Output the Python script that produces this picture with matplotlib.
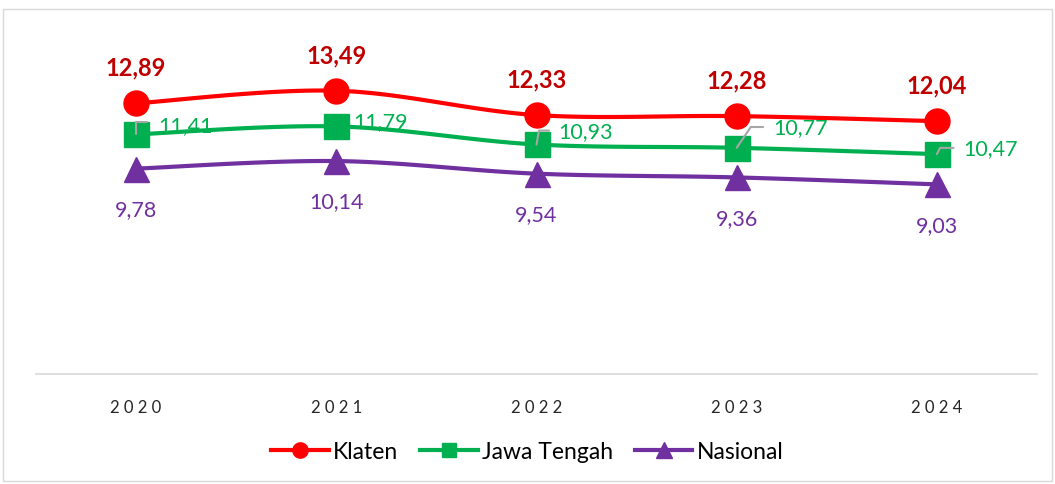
import matplotlib.pyplot as plt
import numpy as np
from matplotlib.lines import Line2D
from matplotlib.patches import Rectangle

plt.rcParams['font.family'] = ['Lato', 'DejaVu Sans']

# data
years = ['2020', '2021', '2022', '2023', '2024']
klaten = [12.89, 13.49, 12.33, 12.28, 12.04]
jateng = [11.41, 11.79, 10.93, 10.77, 10.47]
nasional = [9.78, 10.14, 9.54, 9.36, 9.03]

klaten_labels = ['12,89', '13,49', '12,33', '12,28', '12,04']
jateng_labels = ['11,41', '11,79', '10,93', '10,77', '10,47']
nasional_labels = ['9,78', '10,14', '9,54', '9,36', '9,03']

red = '#FF0000'
green = '#00B050'
purple = '#7030A0'


def smooth(x, y, n=30):
    # Excel-like smoothed line (Catmull-Rom through the points)
    x = np.asarray(x, float)
    y = np.asarray(y, float)
    pts = np.column_stack([x, y])
    ext = np.vstack([pts[0], pts, pts[-1]])
    out = []
    for i in range(len(pts) - 1):
        p0, p1, p2, p3 = ext[i], ext[i + 1], ext[i + 2], ext[i + 3]
        c1 = p1 + (p2 - p0) / 6
        c2 = p2 - (p3 - p1) / 6
        t = np.linspace(0, 1, n)[:, None]
        seg = ((1 - t) ** 3) * p1 + 3 * ((1 - t) ** 2) * t * c1 + 3 * (1 - t) * t ** 2 * c2 + t ** 3 * p2
        out.append(seg if i == 0 else seg[1:])
    out = np.vstack(out)
    return out[:, 0], out[:, 1]


fig = plt.figure(figsize=(10.55, 4.85), dpi=100)
ax = fig.add_axes([36 / 1055, 1 - 375 / 485, 1001 / 1055, 336 / 485])

x = np.arange(len(years))

for vals, col, mk in [(klaten, red, 'o'), (jateng, green, 's'), (nasional, purple, '^')]:
    sx, sy = smooth(x, vals)
    ax.plot(sx, sy, color=col, lw=3, solid_capstyle='round', zorder=2)
    ax.plot(x, vals, linestyle='none', marker=mk, markersize=18, color=col, zorder=3)

# labels
for xi, v, t in zip(x, klaten, klaten_labels):
    ax.annotate(t, (xi, v), xytext=(0, 26), textcoords='offset points',
                ha='center', va='center', fontsize=17, fontweight='bold', color='#C00000')

for xi, v, t in zip(x, nasional, nasional_labels):
    ax.annotate(t, (xi, v), xytext=(0, -29), textcoords='offset points',
                ha='center', va='center', fontsize=15.5, color=purple)

green_off = [(16, 7), (12, 4), (16, 9.5), (26, 15), (19, 4.5)]
for xi, v, t, off in zip(x, jateng, jateng_labels, green_off):
    ax.annotate(t, (xi, v), xytext=off, textcoords='offset points',
                ha='left', va='center', fontsize=15.5, color=green, zorder=5)
# leader lines
leaders = [(0, (8, 9), 90), (2, (9, 10), 80), (3, (19, 15), 56), (4, (12, 4.5), 63)]
for i, (dx, dy), ang in leaders:
    ax.annotate('', (x[i], jateng[i]), xytext=(dx, dy), textcoords='offset points',
                arrowprops=dict(arrowstyle='-', color='#A6A6A6', lw=1.5,
                                shrinkA=0, shrinkB=0,
                                connectionstyle='angle,angleA=0,angleB=%d,rad=0' % ang),
                zorder=4)

ax.set_xlim(-0.5, len(years) - 0.5)
ax.set_ylim(0, 16)
ax.set_yticks([])
ax.set_xticks(x)
ax.set_xticklabels([' '.join(y) for y in years], fontsize=12, color='#262626')
ax.tick_params(axis='x', length=0, pad=18)
for s in ['top', 'right', 'left']:
    ax.spines[s].set_visible(False)
ax.spines['bottom'].set_color('#D9D9D9')
ax.spines['bottom'].set_linewidth(1.2)

handles = [
    Line2D([], [], color=red, lw=3, marker='o', markersize=11),
    Line2D([], [], color=green, lw=3, marker='s', markersize=10),
    Line2D([], [], color=purple, lw=3, marker='^', markersize=11),
]
fig.legend(handles, ['Klaten', 'Jawa Tengah', 'Nasional'], loc='center',
           bbox_to_anchor=(0.5, 1 - 453 / 485), ncol=3, frameon=False,
           fontsize=16.5, handlelength=2.5, handletextpad=0.2, columnspacing=0.95)

fig.patches.append(Rectangle((3 / 1055, 3 / 485), 1049 / 1055, 472 / 485,
                             transform=fig.transFigure, fill=False,
                             edgecolor='#D9D9D9', lw=1))

fig.savefig('out.png', dpi=100)
